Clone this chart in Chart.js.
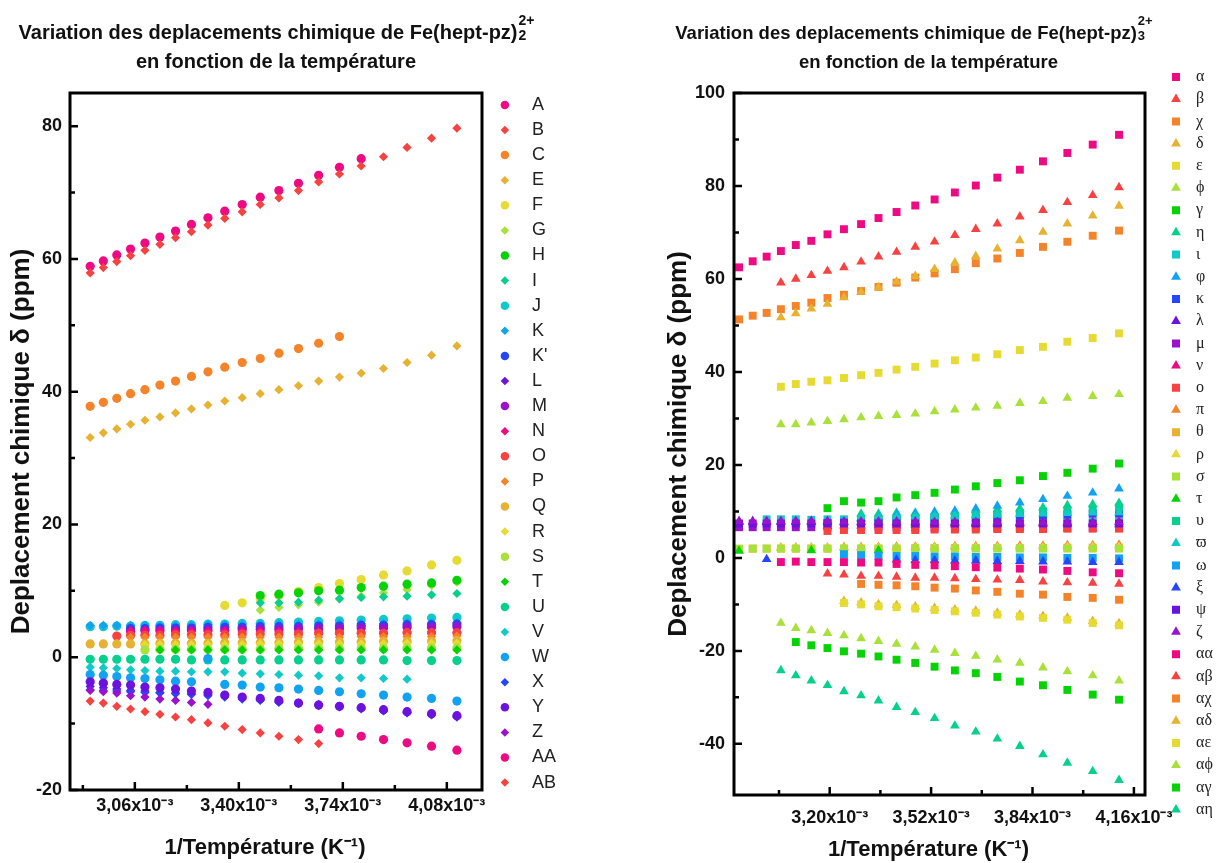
<!DOCTYPE html>
<html>
<head>
<meta charset="utf-8">
<script src="https://cdn.jsdelivr.net/npm/chart.js@4/dist/chart.umd.min.js"></script>
<style>
    body { margin: 0; background: #fff; }
    .box { position: absolute; top: 0; height: 863px; }
    #leftBox { left: 0; width: 600px; }
    #rightBox { left: 609px; width: 610px; }
</style>
</head>
<body>
<div class="box" id="leftBox"><canvas id="left"></canvas></div>
<div class="box" id="rightBox"><canvas id="right"></canvas></div>
<script>
const _ = null;

// 1/T in units of 1e-3 K^-1
const invT = [2.914, 2.957, 3.001, 3.046, 3.093, 3.142, 3.193, 3.245, 3.299, 3.354, 3.411,
    3.470, 3.531, 3.595, 3.661, 3.729, 3.800, 3.873, 3.950, 4.030, 4.113];

// Fe(hept-pz)2 2+
const sA = [58.9, 59.7, 60.6, 61.5, 62.4, 63.3, 64.2, 65.2, 66.2, 67.2, 68.2, 69.3, 70.3, 71.4, 72.6, 73.8, 75.1, _, _, _, _];
const sB = [57.9, 58.7, 59.6, 60.5, 61.3, 62.2, 63.2, 64.1, 65.1, 66.1, 67.1, 68.2, 69.2, 70.3, 71.6, 72.8, 74.0, 75.4, 76.8, 78.2, 79.7];
const sC = [37.8, 38.4, 39.0, 39.7, 40.3, 41.0, 41.6, 42.3, 43.0, 43.7, 44.4, 45.0, 45.8, 46.5, 47.3, 48.3, _, _, _, _, _];
const sE = [33.1, 33.8, 34.4, 35.1, 35.7, 36.2, 36.8, 37.4, 38.0, 38.6, 39.1, 39.7, 40.3, 40.9, 41.6, 42.2, 42.8, 43.5, 44.4, 45.5, 46.9];
const sF = [_, _, _, _, _, _, _, _, _, 7.8, 8.2, 8.8, 9.3, 9.9, 10.5, 11.1, 11.7, 12.4, 13.0, 13.9, 14.6];
const sG = [_, _, _, _, _, _, _, _, _, _, _, 7.1, 7.5, 7.9, 8.3, 8.8, 9.2, 9.7, 10.2, 10.8, 11.3];
const sH = [_, _, _, _, _, _, _, _, _, _, _, 9.3, 9.5, 9.7, 10.0, 10.1, 10.5, 10.7, 11.0, 11.2, 11.6];
const sI = [_, _, _, _, _, _, _, _, _, _, _, 8.2, 8.2, 8.3, 8.6, 8.8, 9.0, 9.1, 9.2, 9.4, 9.6];
const sJ = [4.6, 4.6, 4.7, 4.7, 4.8, 4.8, 4.9, 4.9, 5.0, 5.0, 5.1, 5.1, 5.2, 5.3, 5.4, 5.5, 5.6, 5.7, 5.8, 5.9, 6.0];
const sK = [4.8, 4.8, 4.8, 4.8, 4.8, 4.8, 4.8, 4.8, 4.9, 4.9, 4.9, 5.0, 5.0, 5.0, 5.0, 5.1, 5.1, 5.1, 5.2, 5.2, 5.2];
const sKp = [_, _, _, 4.3, 4.3, 4.4, 4.4, 4.4, 4.5, 4.5, 4.5, 4.6, 4.6, 4.6, 4.7, 4.7, 4.8, 4.8, 4.9, 4.9, 5.0];
const sL = [-4.4, -4.6, -4.8, -5.0, -5.1, -5.3, -5.4, -5.5, -5.6, -5.7, -6.1, -6.4, -6.7, -6.9, -7.1, -7.4, -7.6, -8.0, -8.3, -8.6, -9.0];
const sM = [_, _, _, 3.9, 4.0, 4.0, 4.0, 4.1, 4.1, 4.1, 4.2, 4.2, 4.2, 4.3, 4.3, 4.3, 4.4, 4.4, 4.5, 4.5, 4.6];
const sN = [_, _, _, 4.0, 4.0, 4.0, 3.9, 3.9, 3.9, 3.9, 3.9, 3.9, 3.9, 3.8, 3.8, 3.8, 3.8, 3.8, 3.8, 3.8, 3.7];
const sO = [_, _, 3.2, 3.3, 3.3, 3.3, 3.4, 3.4, 3.4, 3.4, 3.5, 3.5, 3.5, 3.5, 3.6, 3.6, 3.6, 3.6, 3.7, 3.7, 3.7];
const sP = [_, _, _, 3.0, 3.0, 3.0, 3.0, 3.0, 3.0, 3.0, 3.0, 3.0, 3.0, 3.0, 3.0, 3.0, 3.1, 3.1, 3.1, 3.1, 3.2];
const sQ = [2.0, 2.0, 2.0, 2.0, 2.0, 2.1, 2.1, 2.1, 2.1, 2.2, 2.2, 2.2, 2.2, 2.3, 2.3, 2.3, 2.3, 2.4, 2.4, 2.4, 2.5];
const sR = [_, _, _, _, 1.9, 1.9, 1.9, 1.9, 1.9, 1.9, 1.9, 2.0, 2.0, 2.0, 2.0, 2.0, 2.0, 2.0, 2.1, 2.1, 2.1];
const sS = [_, _, _, _, 1.1, 1.2, 1.2, 1.2, 1.2, 1.2, 1.2, 1.2, 1.3, 1.3, 1.3, 1.3, 1.3, 1.3, 1.4, 1.4, 1.4];
const sT = [_, _, _, _, _, 1.1, 1.1, 1.1, 1.1, 1.1, 1.1, 1.1, 1.1, 1.1, 1.1, 1.1, 1.1, 1.1, 1.1, 1.1, 1.1];
const sU = [-0.3, -0.3, -0.3, -0.3, -0.3, -0.3, -0.3, -0.4, -0.4, -0.4, -0.4, -0.4, -0.4, -0.4, -0.4, -0.4, -0.4, -0.4, -0.5, -0.5, -0.5];
const sV = [-1.5, -1.6, -1.7, -1.9, -2.0, -2.1, -2.1, -2.2, -2.2, -2.2, -2.4, -2.5, -2.6, -2.7, -2.8, -3.1, -3.1, -3.2, -3.3, _, _];
const sW = [-2.6, -2.7, -2.9, -3.1, -3.2, -3.4, -3.6, -3.7, -0.2, -4.1, -4.2, -4.5, -4.6, -4.8, -5.0, -5.2, -5.5, -5.7, -6.0, -6.2, -6.6];
const sX = [-4.9, -5.0, -5.1, -5.2, -5.3, -5.4, -5.5, -5.6, -5.8, -6.0, -6.3, -6.5, -6.8, -7.0, -7.3, -7.5, -7.8, -8.1, -8.4, -8.7, -9.0];
const sY = [-3.7, -3.9, -4.1, -4.2, -4.5, -4.6, -4.8, -5.1, -5.3, -5.7, -6.0, -6.2, -6.5, -6.9, -7.2, -7.4, -7.6, -7.9, -8.2, -8.5, -8.8];
const sZ = [-5.0, -5.2, -5.4, -5.8, -6.0, -6.3, -6.5, -6.8, -7.1, _, _, _, _, _, _, _, _, _, _, _, _];
const sAA = [_, _, _, _, _, _, _, _, _, _, _, _, _, _, -10.8, -11.4, -11.9, -12.4, -12.9, -13.4, -14.0];
const sAB = [-6.6, -6.9, -7.4, -7.8, -8.2, -8.6, -9.0, -9.4, -9.9, -10.4, -10.9, -11.4, -11.9, -12.4, -13.0, _, _, _, _, _, _];

const leftNames = ["A", "B", "C", "E", "F", "G", "H", "I", "J", "K", "K'", "L", "M", "N", "O", "P",
    "Q", "R", "S", "T", "U", "V", "W", "X", "Y", "Z", "AA", "AB"];
const leftSeries = [sA, sB, sC, sE, sF, sG, sH, sI, sJ, sK, sKp, sL, sM, sN, sO, sP,
    sQ, sR, sS, sT, sU, sV, sW, sX, sY, sZ, sAA, sAB];

// Fe(hept-pz)3 2+
const rAlpha = [62.5, 63.8, 64.8, 66.0, 67.3, 68.2, 69.6, 70.7, 71.8, 73.1, 74.4, 75.8, 77.1, 78.6, 80.1, 81.8, 83.5, 85.3, 87.1, 88.9, 91.0];
const rBeta = [_, _, _, 59.2, 60.0, 60.8, 61.7, 62.5, 63.7, 64.8, 65.8, 66.9, 68.0, 69.4, 70.7, 71.9, 73.4, 74.8, 76.5, 78.0, 79.7];
const rChi = [51.3, 52.1, 52.7, 53.5, 54.2, 54.9, 55.9, 56.6, 57.4, 58.3, 59.2, 60.3, 61.2, 62.1, 63.4, 64.4, 65.6, 66.9, 68.0, 69.3, 70.4];
const rDelta = [_, _, _, 51.7, 52.6, 53.6, 54.6, 56.0, 57.2, 58.2, 59.4, 60.6, 62.1, 63.5, 64.9, 66.5, 68.3, 70.1, 71.9, 73.6, 75.7];
const rEps = [_, _, _, 36.8, 37.4, 37.9, 38.2, 38.7, 39.3, 39.8, 40.5, 41.1, 41.8, 42.5, 43.1, 43.8, 44.7, 45.4, 46.5, 47.3, 48.3];
const rPhi = [_, _, _, 28.7, 28.7, 29.1, 29.4, 29.8, 30.2, 30.5, 30.7, 31.0, 31.5, 31.9, 32.3, 32.7, 33.3, 33.7, 34.4, 34.8, 35.2];
const rGamma = [_, _, _, _, _, _, 10.7, 12.2, 11.9, 12.2, 13.0, 13.5, 14.0, 14.7, 15.4, 16.1, 16.7, 17.6, 18.3, 19.2, 20.3];
const rEta = [_, _, _, _, _, _, _, _, 9.5, 9.5, 9.7, 9.7, 9.5, 9.9, 10.2, 10.4, 10.6, 10.8, 11.3, 11.5, 11.8];
const rIota = [_, _, 8.3, 8.3, 8.3, 8.2, 8.3, 8.3, 8.3, 8.2, 8.2, 8.1, 8.1, 8.0, 8.0, 8.0, 7.9, 7.9, 7.8, 7.8, 7.8];
const rVarphi = [_, _, _, _, _, _, _, _, 8.4, 8.8, 9.3, 9.5, 9.9, 10.1, 10.6, 11.2, 11.9, 12.6, 13.3, 14.0, 14.9];
const rKappa = [_, _, _, _, _, _, 7.5, 7.6, 7.7, 7.8, 7.9, 8.0, 8.2, 8.4, 8.6, 8.9, 9.1, 9.1, 9.3, 9.5, 9.5];
const rLambda = [7.7, 7.7, 7.7, 7.7, 7.7, 7.7, 7.7, 7.6, 7.6, 7.6, 7.5, 7.5, 7.5, 7.5, 7.4, 7.4, 7.4, 7.3, 7.3, 7.3, 7.2];
const rMu = [6.6, 6.6, 6.6, 6.6, 6.6, 6.6, 6.6, 6.6, 6.6, 6.6, 6.6, 6.5, 6.5, 6.5, 6.5, 6.5, 6.5, 6.4, 6.4, 6.4, 6.4];
const rNu = [_, _, _, _, _, _, 6.8, 6.9, 6.9, 7.0, 7.0, 7.1, 7.1, 7.2, 7.3, 7.3, 7.4, 7.5, 7.6, 7.7, 7.8];
const rOmicron = [_, _, _, _, _, _, 5.8, 6.0, 6.0, 6.0, 6.0, 6.0, 6.1, 6.1, 6.1, 6.2, 6.2, 6.2, 6.3, 6.3, 6.3];
const rPi = [_, _, _, 2.2, 2.2, 2.2, 2.2, 2.3, 2.3, 2.3, 2.4, 2.4, 2.4, 2.5, 2.5, 2.5, 2.6, 2.6, 2.7, 2.7, 2.8];
const rTheta = [_, 2.0, 2.0, 2.0, 2.0, 2.0, 2.0, 2.0, 2.0, 2.0, 2.0, 2.1, 2.1, 2.1, 2.1, 2.1, 2.1, 2.1, 2.2, 2.2, 2.2];
const rRho = [_, _, _, 2.1, 2.1, 2.1, 2.1, 2.1, 2.1, 2.1, 2.1, 2.1, 2.2, 2.2, 2.2, 2.2, 2.2, 2.2, 2.3, 2.3, 2.3];
const rSigma = [2.0, 2.0, 2.0, 2.0, 2.0, 2.0, 2.0, 2.0, 2.0, 2.0, 2.0, 2.0, 2.0, 2.0, 2.0, 2.0, 2.0, 2.0, 2.0, 2.0, 2.0];
const rTau = [1.5, _, _, _, _, 1.6, _, _, _, 1.6, _, _, _, _, _, _, _, _, _, _, _];
const rUpsilon = [_, _, _, _, _, _, _, _, 8.0, 8.2, 8.4, 8.6, 8.8, 9.0, 9.3, 9.5, 9.7, 10.0, 10.2, 10.5, 10.8];
const rVarpi = [_, _, _, _, _, _, _, _, 8.6, 8.7, 8.8, 8.9, 9.0, 9.1, 9.2, 9.3, 9.4, 9.5, 9.6, 9.7, 9.8];
const rOmega = [_, _, _, _, _, _, _, 0.8, 0.6, 0.5, 0.4, 0.4, 0.3, 0.3, 0.2, 0.2, 0.1, 0.1, 0.0, 0.0, -0.1];
const rXi = [_, _, -0.3, _, _, _, _, _, _, _, -0.4, -0.5, -0.5, -0.6, -0.6, -0.7, -0.7, -0.8, -0.8, -0.9, -0.9];
const rPsi = [7.4, 7.4, 7.4, 7.4, 7.4, 7.4, 7.4, 7.4, 7.4, 7.4, 7.4, 7.4, 7.4, 7.4, 7.4, 7.4, 7.4, 7.4, 7.4, 7.4, 7.4];
const rZeta = [7.9, 7.9, 7.9, 7.9, 7.9, 7.9, 7.9, 7.8, 7.8, 7.8, 7.8, 7.8, 7.7, 7.7, 7.7, 7.7, 7.6, 7.6, 7.6, 7.6, 7.6];
const rAA = [_, _, _, -0.9, -0.8, -0.9, -0.9, -0.9, -1.0, -1.0, -1.3, -1.5, -1.6, -1.8, -2.0, -2.1, -2.3, -2.5, -2.8, -3.1, -3.3];
const rAB = [_, _, _, _, _, _, -3.4, -3.6, -3.9, -3.9, -4.1, -4.3, -4.3, -4.4, -4.6, -4.7, -4.8, -5.1, -5.3, -5.4, -5.6];
const rAChi = [_, _, _, _, _, _, _, _, -5.6, -5.8, -5.9, -6.1, -6.4, -6.6, -7.0, -7.3, -7.7, -7.9, -8.4, -8.6, -9.0];
const rADelta = [_, _, _, _, _, _, _, -9.3, -9.6, -10.0, -10.2, -10.5, -10.8, -11.1, -11.4, -11.8, -12.2, -12.5, -12.9, -13.6, -14.1];
const rAEps = [_, _, _, _, _, _, _, -9.7, -10.0, -10.4, -10.6, -10.9, -11.2, -11.5, -11.8, -12.2, -12.6, -12.9, -13.3, -14.0, -14.5];
const rAPhi = [_, _, _, -14.0, -15.1, -15.6, -16.2, -16.7, -17.3, -17.9, -18.5, -19.1, -19.8, -20.5, -21.1, -21.9, -22.6, -23.6, -24.4, -25.3, -26.4];
const rAGamma = [_, _, _, _, -18.1, -18.8, -19.4, -20.1, -20.6, -21.2, -21.9, -22.6, -23.4, -24.2, -24.8, -25.6, -26.6, -27.4, -28.4, -29.4, -30.5];
const rAEta = [_, _, _, -24.2, -25.3, -26.4, -27.4, -28.7, -29.6, -30.7, -32.1, -33.2, -34.5, -36.1, -37.4, -38.9, -40.5, -42.3, -44.1, -45.9, -47.8];

const rightNames = ["α", "β", "χ", "δ", "ε", "ϕ", "γ", "η", "ι", "φ", "κ", "λ", "μ", "ν", "ο", "π", "θ",
    "ρ", "σ", "τ", "υ", "ϖ", "ω", "ξ", "ψ", "ζ", "αα", "αβ", "αχ", "αδ", "αε", "αϕ", "αγ", "αη"];
const rightSeries = [rAlpha, rBeta, rChi, rDelta, rEps, rPhi, rGamma, rEta, rIota, rVarphi, rKappa,
    rLambda, rMu, rNu, rOmicron, rPi, rTheta, rRho, rSigma, rTau, rUpsilon, rVarpi, rOmega, rXi,
    rPsi, rZeta, rAA, rAB, rAChi, rADelta, rAEps, rAPhi, rAGamma, rAEta];

// axis ticks
const leftXMajor = [3.06, 3.40, 3.74, 4.08];
const leftXMinor = [2.89, 3.23, 3.57, 3.91];
const leftYMajor = [-20, 0, 20, 40, 60, 80];
const leftYMinor = [-10, 10, 30, 50, 70];
const rightXMajor = [3.20, 3.52, 3.84, 4.16];
const rightXMinor = [3.04, 3.36, 3.68, 4.00];
const rightYMajor = [-40, -20, 0, 20, 40, 60, 80, 100];
const rightYMinor = [-30, -10, 10, 30, 50, 70, 90];

const palette = ["#EE0A82", "#F84242", "#F5832A", "#E7B131", "#E5DB32", "#A9E13B", "#05D305",
    "#06D08E", "#10C9C9", "#12A2F2", "#2546FA", "#6B12DE", "#9B12CE"];

const SANS = "'Liberation Sans', Arial, sans-serif";

function buildDatasets(names, series, shapes, radius) {
    return names.map((name, i) => ({
        label: name,
        data: invT.map((x, j) => ({ x: x, y: series[i][j] })).filter(p => p.y !== null),
        pointStyle: shapes[i % 2],
        pointRadius: radius,
        pointHoverRadius: radius,
        pointBorderWidth: 0,
        backgroundColor: palette[i % palette.length],
        borderColor: palette[i % palette.length],
        order: -i,
    }));
}

function fmtX(v) {
    return v.toFixed(2).replace(".", ",") + "x10\u207B\u00B3";
}

// frame + inward tick marks, Origin style
const framePlugin = {
    id: "frame",
    afterDatasetsDraw(chart, args, opts) {
        const { ctx, chartArea: a, scales } = chart;
        const x = scales.x, y = scales.y;
        ctx.save();
        ctx.strokeStyle = "#000";
        ctx.lineWidth = 3;
        ctx.strokeRect(a.left, a.top, a.right - a.left, a.bottom - a.top);
        ctx.lineWidth = 2.5;
        ctx.beginPath();
        const xt = (list, len) => list.forEach(v => {
            const px = x.getPixelForValue(v);
            ctx.moveTo(px, a.bottom);
            ctx.lineTo(px, a.bottom - len);
        });
        const yt = (list, len) => list.forEach(v => {
            const py = y.getPixelForValue(v);
            ctx.moveTo(a.left, py);
            ctx.lineTo(a.left + len, py);
        });
        xt(opts.xMajor, 8);
        xt(opts.xMinor, 5);
        yt(opts.yMajor, 8);
        yt(opts.yMinor, 5);
        ctx.stroke();
        ctx.restore();
    }
};

// two-line title with stacked charge / subscript
const titlePlugin = {
    id: "feTitle",
    afterDraw(chart, args, opts) {
        const { ctx, chartArea: a } = chart;
        const cx = (a.left + a.right) / 2 + opts.dx;
        const big = "bold " + opts.size + "px " + SANS;
        const small = "bold " + Math.round(opts.size * 0.7) + "px " + SANS;
        ctx.save();
        ctx.fillStyle = "#111";
        ctx.textBaseline = "alphabetic";
        ctx.font = big;
        const w1 = ctx.measureText(opts.line1).width;
        ctx.font = small;
        const ws = ctx.measureText(opts.sup).width;
        const x0 = cx + opts.dx1 - (w1 + ws) / 2;
        ctx.textAlign = "left";
        ctx.font = big;
        ctx.fillText(opts.line1, x0, 39);
        ctx.font = small;
        ctx.fillText(opts.sup, x0 + w1 + 1, 25);
        ctx.fillText(opts.sub, x0 + w1 + 1, 40);
        ctx.font = big;
        ctx.textAlign = "center";
        ctx.fillText(opts.line2, cx, 68);
        ctx.restore();
    }
};

// move the legend column where the original has it
const legendPlace = {
    id: "legendPlace",
    afterLayout(chart, args, opts) {
        const lg = chart.legend;
        lg.left = opts.left;
        lg.right = chart.width;
        lg.top = opts.top;
        lg.bottom = chart.height;
    }
};

function makeOptions(cfg) {
    return {
        responsive: true,
        maintainAspectRatio: false,
        animation: false,
        layout: { padding: { top: 93, left: 0, right: cfg.padRight, bottom: 0 } },
        plugins: {
            tooltip: { enabled: false },
            legend: {
                position: "right",
                align: "start",
                fullSize: true,
                maxWidth: 40,
                labels: {
                    usePointStyle: true,
                    boxWidth: cfg.legendFont,
                    boxHeight: cfg.legendBox,
                    padding: cfg.legendPad,
                    textAlign: "left",
                    color: "#222",
                    font: { family: cfg.legendFamily, size: cfg.legendFont },
                    generateLabels(chart) {
                        const items = Chart.defaults.plugins.legend.labels.generateLabels(chart);
                        items.forEach(it => { it.text = cfg.gap + it.text; it.lineWidth = 0; });
                        return items.sort((p, q) => p.datasetIndex - q.datasetIndex);
                    },
                },
            },
            feTitle: cfg.title,
            frame: cfg.ticks,
            legendPlace: cfg.legendPos,
        },
        scales: {
            x: {
                type: "linear",
                min: cfg.xMin,
                max: cfg.xMax,
                afterBuildTicks: s => { s.ticks = cfg.ticks.xMajor.map(v => ({ value: v })); },
                afterFit: s => { s.height = cfg.xHeight; },
                grid: { display: false, drawTicks: false },
                border: { display: false },
                ticks: {
                    callback: v => fmtX(v),
                    color: "#111",
                    padding: cfg.xTickPad,
                    maxRotation: 0,
                    autoSkip: false,
                    font: { family: SANS, size: 18, weight: "bold" },
                },
                title: {
                    display: true,
                    // trailing em space nudges the centred title left, as in the original
                    text: "1/Température (K\u207B\u00B9)\u2003",
                    color: "#111",
                    padding: { top: 0, bottom: cfg.xTitlePad },
                    font: { family: SANS, size: 22, weight: "bold" },
                },
            },
            y: {
                type: "linear",
                min: cfg.yMin,
                max: cfg.yMax,
                afterBuildTicks: s => { s.ticks = cfg.ticks.yMajor.map(v => ({ value: v })); },
                afterFit: s => { s.width = cfg.yWidth; },
                grid: { display: false, drawTicks: false },
                border: { display: false },
                ticks: {
                    color: "#111",
                    padding: cfg.yTickPad,
                    autoSkip: false,
                    font: { family: SANS, size: 18, weight: "bold" },
                },
                title: {
                    display: true,
                    text: "Deplacement chimique δ (ppm)",
                    color: "#111",
                    padding: { top: cfg.yTitlePad, bottom: 0 },
                    font: { family: SANS, size: 26, weight: "bold" },
                },
            },
        },
    };
}

new Chart(document.getElementById("left"), {
    type: "scatter",
    data: { datasets: buildDatasets(leftNames, leftSeries, ["circle", "rectRot"], 4.6) },
    options: makeOptions({
        padRight: 78,
        xMin: 2.848, xMax: 4.195, yMin: -20, yMax: 85,
        xHeight: 73, yWidth: 70,
        xTickPad: 5, yTickPad: 8, xTitlePad: 2, yTitlePad: 6,
        legendFont: 18, legendBox: 6, legendPad: 7.1, legendFamily: SANS, gap: "\u2002",
        legendPos: { left: 488.8, top: 88.8 },
        ticks: { xMajor: leftXMajor, xMinor: leftXMinor, yMajor: leftYMajor, yMinor: leftYMinor },
        title: {
            line1: "Variation des deplacements chimique de Fe(hept-pz)",
            sup: "2+", sub: "2",
            line2: "en fonction de la température",
            size: 20, dx: 0, dx1: 0,
        },
    }),
    plugins: [framePlugin, titlePlugin, legendPlace],
});

new Chart(document.getElementById("right"), {
    type: "scatter",
    data: { datasets: buildDatasets(rightNames, rightSeries, ["rect", "triangle"], 5.6) },
    options: makeOptions({
        padRight: 34,
        xMin: 2.898, xMax: 4.195, yMin: -51, yMax: 100,
        xHeight: 68, yWidth: 125,
        xTickPad: 12, yTickPad: 9, xTitlePad: 0, yTitlePad: 54,
        legendFont: 16, legendBox: 8, legendPad: 6.2,
        legendFamily: "'Liberation Serif', 'DejaVu Serif', serif", gap: "\u2005",
        legendPos: { left: 552.8, top: 62.8 },
        ticks: { xMajor: rightXMajor, xMinor: rightXMinor, yMajor: rightYMajor, yMinor: rightYMinor },
        title: {
            line1: "Variation des deplacements chimique de Fe(hept-pz)",
            sup: "2+", sub: "3",
            line2: "en fonction de la température",
            size: 18.5, dx: -11, dx1: -15,
        },
    }),
    plugins: [framePlugin, titlePlugin, legendPlace],
});
</script>
</body>
</html>
